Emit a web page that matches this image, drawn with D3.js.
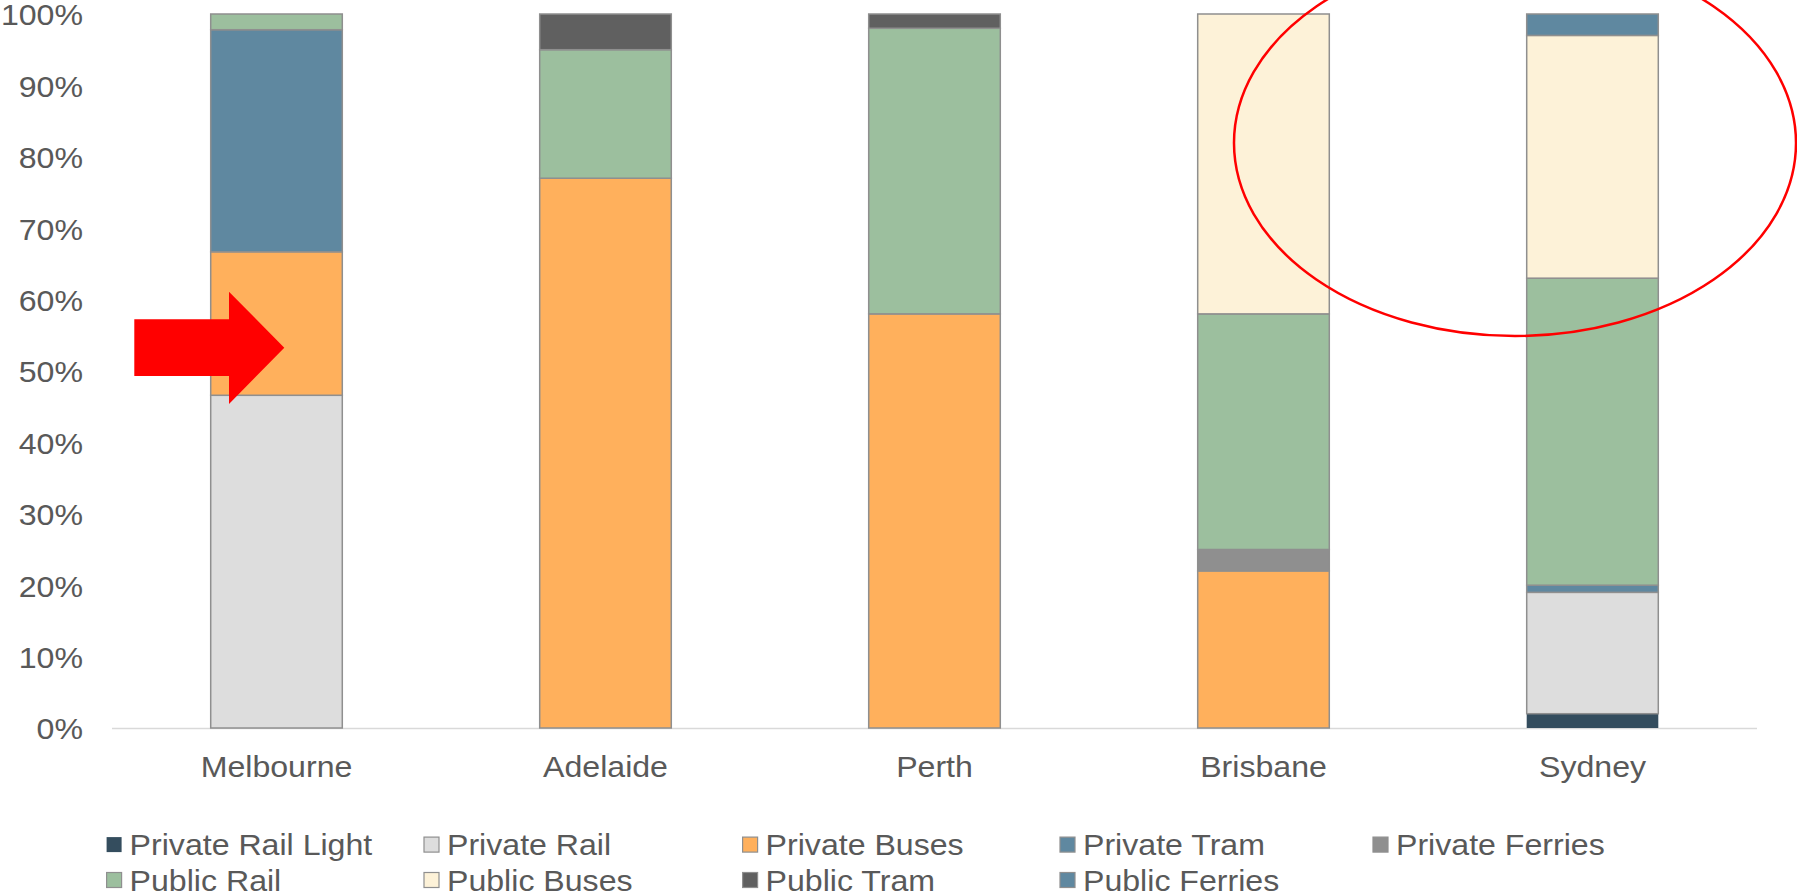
<!DOCTYPE html>
<html>
<head>
<meta charset="utf-8">
<script src="https://cdn.jsdelivr.net/npm/d3@7"></script>
<style>
  html, body { margin: 0; padding: 0; background: #fff; }
  svg { display: block; }
  text { font-family: "Liberation Sans", Arial, sans-serif; fill: #595959; }
</style>
</head>
<body>
<svg id="chart" width="1797" height="894"></svg>
<script>
const cities = ["Melbourne", "Adelaide", "Perth", "Brisbane", "Sydney"];
const seriesNames = ["Private Rail Light", "Private Rail", "Private Buses", "Private Tram", "Private Ferries",
                     "Public Rail", "Public Buses", "Public Tram", "Public Ferries"];
// values per series, in city order (percent)
const privateRailLight = [0, 0, 0, 0, 2];
const privateRail      = [46.6, 0, 0, 0, 17];
const privateBuses     = [20.1, 77, 58, 22, 0];
const privateTram      = [31.1, 0, 0, 0, 1];
const privateFerries   = [0, 0, 0, 3, 0];
const publicRail       = [2.2, 18, 40, 33, 43];
const publicBuses      = [0, 0, 0, 42, 34];
const publicTram       = [0, 5, 2, 0, 0];
const publicFerries    = [0, 0, 0, 0, 3];
const yTicks = [0, 10, 20, 30, 40, 50, 60, 70, 80, 90, 100];

const seriesValues = [privateRailLight, privateRail, privateBuses, privateTram, privateFerries,
                      publicRail, publicBuses, publicTram, publicFerries];
const colors = ["#344d5e", "#dddddd", "#ffb05c", "#5f88a0", "#8f8f8f",
                "#9cbf9e", "#fdf2d8", "#606060", "#5f88a0"];

const table = cities.map((c, i) => {
  const row = { city: c };
  seriesNames.forEach((s, j) => row[s] = seriesValues[j][i]);
  return row;
});

const svg = d3.select("#chart");
const plotLeft = 112, plotRight = 1757, plotTop = 14, plotBottom = 728;

const x = d3.scaleBand().domain(cities).range([plotLeft, plotRight]).padding(0);
const y = d3.scaleLinear().domain([0, 100]).range([plotBottom, plotTop]);
const barW = x.bandwidth() * 0.4;

const stacked = d3.stack().keys(seriesNames)(table);

// baseline
svg.append("line")
  .attr("x1", plotLeft).attr("x2", plotRight)
  .attr("y1", plotBottom + 0.5).attr("y2", plotBottom + 0.5)
  .attr("stroke", "#d9d9d9").attr("stroke-width", 1.5);

// bars
stacked.forEach((layer, j) => {
  svg.append("g").selectAll("rect")
    .data(layer.filter(d => d[1] - d[0] > 0))
    .join("rect")
    .attr("x", d => x(d.data.city) + (x.bandwidth() - barW) / 2)
    .attr("width", barW)
    .attr("y", d => y(d[1]))
    .attr("height", d => y(d[0]) - y(d[1]))
    .attr("fill", colors[j])
    .attr("stroke", j === 0 ? "none" : "#8f8f8f")
    .attr("stroke-width", 1.5);
});

// y axis labels
const yAxis = d3.axisLeft(y).tickValues(yTicks).tickFormat(d => d + "%").tickSize(0).tickPadding(0);
const ya = svg.append("g").attr("transform", `translate(83,0)`).call(yAxis);
ya.select(".domain").remove();
ya.selectAll("text").attr("font-size", 30).attr("fill", "#595959")
  .attr("font-family", "'Liberation Sans', Arial, sans-serif").attr("dy", "0.36em");

// x axis labels
const xAxis = d3.axisBottom(x).tickSize(0).tickPadding(0);
const xa = svg.append("g").attr("transform", `translate(0,766)`).call(xAxis);
xa.select(".domain").remove();
xa.selectAll("text").attr("font-size", 30).attr("fill", "#595959")
  .attr("font-family", "'Liberation Sans', Arial, sans-serif").attr("dy", "0.35em");

// legend
const legendCols = [106.6, 424, 742.6, 1060, 1373];
const legendRows = [844.6, 880];
seriesNames.forEach((s, j) => {
  const col = j < 5 ? j : j - 5;
  const row = j < 5 ? 0 : 1;
  const g = svg.append("g").attr("transform", `translate(${legendCols[col]},${legendRows[row]})`);
  g.append("rect").attr("x", 0).attr("y", -7.5).attr("width", 15).attr("height", 15)
    .attr("fill", colors[j]).attr("stroke", j === 0 ? "none" : "#8f8f8f").attr("stroke-width", 1.2);
  g.append("text").attr("x", 23).attr("y", 0).attr("dy", "0.35em")
    .attr("font-size", 30).text(s);
});

// widen glyphs slightly to match the reference's wider type
svg.selectAll("text").each(function() {
  const w = this.getComputedTextLength();
  d3.select(this).attr("textLength", w * 1.07).attr("lengthAdjust", "spacingAndGlyphs");
});

// annotations: red arrow and ellipse
svg.append("path")
  .attr("d", "M134.3,319.3 L229,319.3 L229,291.7 L284.3,347.7 L229,404 L229,376 L134.3,376 Z")
  .attr("fill", "#ff0000");
svg.append("ellipse")
  .attr("cx", 1515).attr("cy", 143).attr("rx", 281).attr("ry", 193)
  .attr("fill", "none").attr("stroke", "#ff0000").attr("stroke-width", 2.5);
</script>
</body>
</html>
